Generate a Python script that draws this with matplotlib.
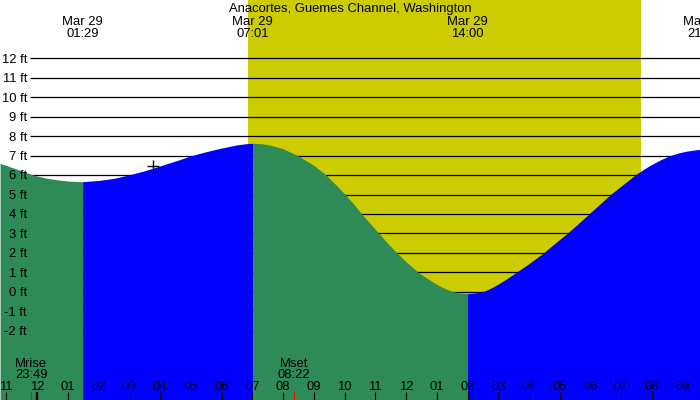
import matplotlib
matplotlib.use("Agg")
import matplotlib.pyplot as plt
import matplotlib.transforms as mtransforms

# ── Data (hours since midnight Mar 29, heights in feet) ───────────────────────
tide_hours = [-1.20, -0.70, -0.12, 0.30, 0.73, 1.10, 1.483,
              2.00, 2.50, 2.97, 3.50, 3.77, 4.50, 5.03, 5.50, 5.95, 6.50, 6.80, 7.017,
              7.30, 7.58, 8.00, 8.48, 9.00, 9.40, 9.70, 10.02, 10.30, 10.56, 10.85,
              11.12, 11.40, 11.67, 12.00, 12.40, 12.70, 13.00, 13.25, 13.49, 13.70, 14.00,
              14.30, 14.57, 14.80, 15.00, 15.25, 15.54, 16.00, 16.47, 16.85, 17.24,
              17.60, 17.95, 18.30, 18.65, 19.05, 19.45, 19.75, 20.00, 20.30, 20.59,
              20.85, 21.10, 21.35, 21.56]
tide_ft = [6.60, 6.33, 6.00, 5.84, 5.74, 5.68, 5.66,
           5.72, 5.83, 6.00, 6.22, 6.35, 6.72, 7.00, 7.20, 7.37, 7.55, 7.61, 7.63,
           7.61, 7.54, 7.35, 7.00, 6.50, 6.00, 5.53, 5.00, 4.50, 4.00, 3.48,
           3.00, 2.50, 2.05, 1.55, 1.00, 0.68, 0.38, 0.18, 0.03, -0.05, -0.10,
           -0.05, 0.05, 0.22, 0.40, 0.64, 0.95, 1.45, 2.00, 2.50, 3.00,
           3.50, 4.00, 4.50, 5.00, 5.50, 6.00, 6.32, 6.55, 6.80, 7.00,
           7.13, 7.22, 7.28, 7.32]

ext_hours = [1.483, 7.017, 14.00, 21.683]
ext_dates = ["Mar 29", "Mar 29", "Mar 29", "Mar 29"]
ext_times = ["01:29", "07:01", "14:00", "21:41"]

moon_hours = [-0.183, 8.367]
moon_names = ["Mrise", "Mset"]
moon_times = ["23:49", "08:22"]

sunrise, sunset = 6.862, 19.642
now_hour, now_ft = 3.77, 6.46

ft_levels = list(range(-2, 13))
hour_ticks = list(range(-1, 22))
hour_labels = ["11", "12", "01", "02", "03", "04", "05", "06", "07", "08",
               "09", "10", "11", "12", "01", "02", "03", "04", "05", "06",
               "07", "08", "09"]

title = "Anacortes, Guemes Channel, Washington"

# ── Layout (pixels) ───────────────────────────────────────────────────────────
W, H = 700, 400
MIDNIGHT_PX, PX_PER_HOUR = 37.0, 30.75
ZERO_FT_PX, PX_PER_FT = 291.8, 19.46
FS = 9.4

GRAY, YELLOW = "#c0c0c0", "#cccc00"
GREEN, BLUE = "#2e8b57", "#0000ff"

plt.rcParams["font.family"] = ["Liberation Sans", "DejaVu Sans"]
fig = plt.figure(figsize=(W / 100, H / 100), dpi=100)
ax = fig.add_axes([0, 0, 1, 1])
ax.set_facecolor(GRAY)
ax.set_xlim(-MIDNIGHT_PX / PX_PER_HOUR, (W - MIDNIGHT_PX) / PX_PER_HOUR)
y_bottom = (ZERO_FT_PX - H) / PX_PER_FT
ax.set_ylim(y_bottom, ZERO_FT_PX / PX_PER_FT)
ax.axis("off")

# pixel transform, origin at top-left
pix = mtransforms.Affine2D().scale(1, -1).translate(0, H)
x_data_y_pix = mtransforms.blended_transform_factory(ax.transData, pix)
x_pix_y_data = mtransforms.blended_transform_factory(pix, ax.transData)

# daylight
ax.axvspan(sunrise, sunset, color=YELLOW, lw=0, zorder=0)

# foot lines
ax.hlines(ft_levels, 29.5, W, colors="black", lw=0.9, transform=x_pix_y_data, zorder=1)

# tide fill, green while falling, blue while rising
splits = [0] + [i for i, t in enumerate(tide_hours) if t in ext_hours] + [len(tide_hours) - 1]
for a, b in zip(splits[:-1], splits[1:]):
    if b <= a:
        continue
    seg_t = tide_hours[a:b + 1]
    seg_h = tide_ft[a:b + 1]
    color = GREEN if seg_h[-1] < seg_h[0] else BLUE
    ax.fill_between(seg_t, y_bottom, seg_h, color=color, lw=0, zorder=2)

# foot labels
for lv in ft_levels:
    ax.text(27, ZERO_FT_PX - lv * PX_PER_FT + 4.4, f"{lv} ft", transform=pix,
            ha="right", va="baseline", fontsize=FS, zorder=5)

# current position marker
ax.plot([now_hour], [now_ft], marker="+", color="black", markersize=9, mew=1, zorder=4)

# title and tide extreme labels
fig.text(W / 2, 12.3, title, transform=pix, ha="center", va="baseline", fontsize=FS)
for t, d, s in zip(ext_hours, ext_dates, ext_times):
    ax.text(t, 25, d, transform=x_data_y_pix, ha="center", va="baseline", fontsize=FS, zorder=5)
    ax.text(t, 36.7, s, transform=x_data_y_pix, ha="center", va="baseline", fontsize=FS, zorder=5)

# hour ticks
for t, lab in zip(hour_ticks, hour_labels):
    ax.text(t, 390, lab, transform=x_data_y_pix, ha="center", va="baseline", fontsize=FS, zorder=5)
    lw = 1.7 if t % 24 == 0 else 0.8
    ax.plot([t, t], [392, 400], color="black", lw=lw, transform=x_data_y_pix,
            solid_capstyle="butt", zorder=5)

# moon rise / set
for t, n, s in zip(moon_hours, moon_names, moon_times):
    ax.text(t, 366.7, n, transform=x_data_y_pix, ha="center", va="baseline", fontsize=FS, zorder=5)
    ax.text(t, 378.3, s, transform=x_data_y_pix, ha="center", va="baseline", fontsize=FS, zorder=5)
    ax.plot([t, t], [392, 400], color="red", lw=0.8, transform=x_data_y_pix,
            solid_capstyle="butt", zorder=5)

fig.savefig("out.png", dpi=100)
